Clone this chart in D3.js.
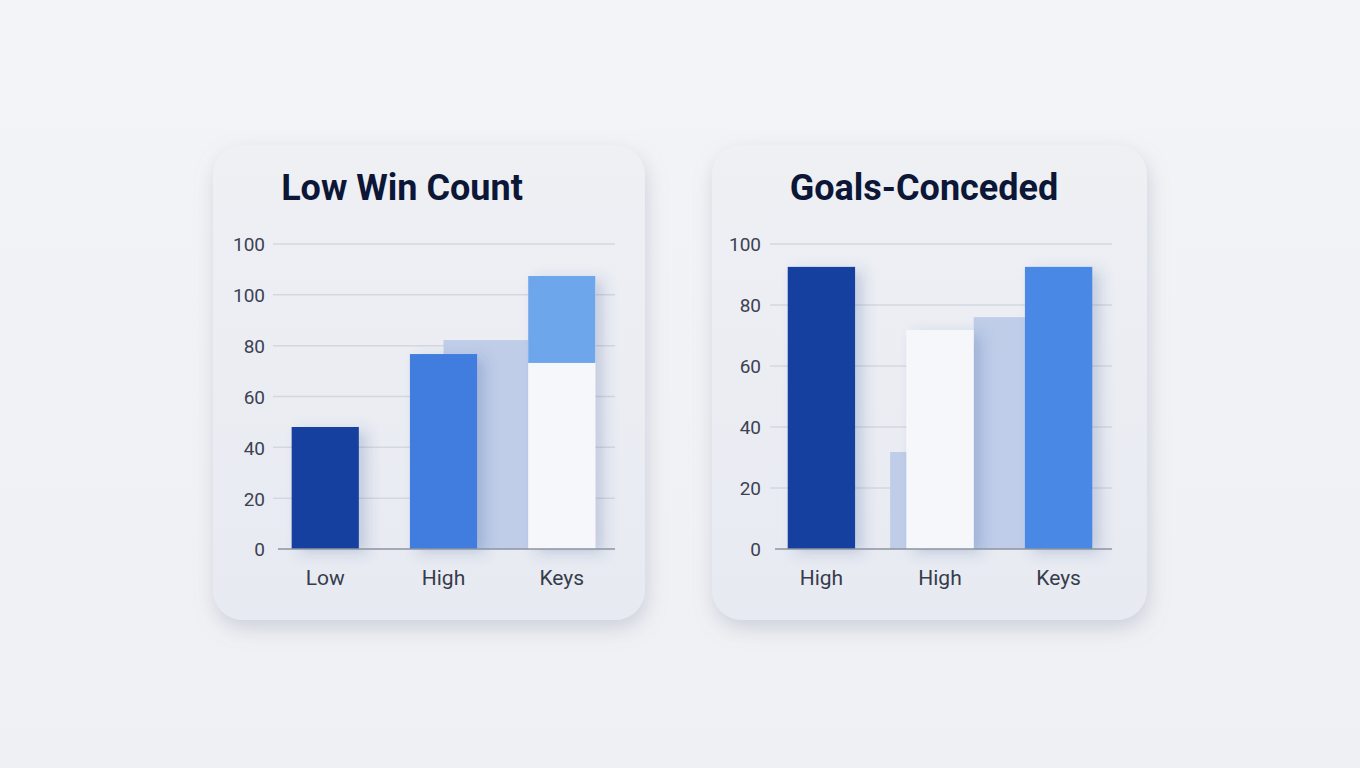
<!DOCTYPE html>
<html><head><meta charset="utf-8">
<script src="https://cdn.jsdelivr.net/npm/d3@7"></script>
<style>
html,body{margin:0;padding:0;background:#f2f3f6;}
svg{display:block;}
</style></head>
<body>
<svg id="chart" width="1360" height="768"></svg>
<script>
// ---- data ----
const leftTitle = "Low Win Count";
const leftCategories = ["Low", "High", "Keys"];
const leftTickValues = [0, 20, 40, 60, 80, 100, 120];
const leftTickLabels = ["0", "20", "40", "60", "80", "100", "100"];
const leftBase = [48, 76.7, 73.2];        // main bar values
const leftTop = [0, 0, 34.2];             // stacked top segment
const leftGhost = [0, 82.2, 0];           // faint bar following each category

const rightTitle = "Goals-Conceded";
const rightCategories = ["High", "High ", "Keys"];
const rightCategoryLabels = ["High", "High", "Keys"];
const rightTickValues = [0, 20, 40, 60, 80, 100];
const rightTickLabels = ["0", "20", "40", "60", "80", "100"];
const rightBase = [92.5, 71.8, 92.5];
const rightTop = [0, 0, 0];
const rightGhostBefore = [0, 31.8, 0];    // faint bar peeking before a category
const rightGhostAfter = [0, 76, 0];       // faint bar after a category

const svg = d3.select("#chart");
const defs = svg.append("defs");

// background gradient
const bg = defs.append("linearGradient").attr("id","bg").attr("x1",0).attr("y1",0).attr("x2",0).attr("y2",1);
bg.append("stop").attr("offset","0%").attr("stop-color","#f3f4f7");
bg.append("stop").attr("offset","100%").attr("stop-color","#eff0f3");
svg.append("rect").attr("width",1360).attr("height",768).attr("fill","url(#bg)");

const cardGrad = defs.append("linearGradient").attr("id","card").attr("x1",0).attr("y1",0).attr("x2",0).attr("y2",1);
cardGrad.append("stop").attr("offset","0%").attr("stop-color","#eef0f4");
cardGrad.append("stop").attr("offset","100%").attr("stop-color","#e7eaf1");

const cs = defs.append("filter").attr("id","cardShadow").attr("x","-20%").attr("y","-20%").attr("width","140%").attr("height","140%");
cs.append("feDropShadow").attr("dx",2).attr("dy",8).attr("stdDeviation",10).attr("flood-color","#8a93ad").attr("flood-opacity",0.35);

const bs = defs.append("filter").attr("id","barShadow").attr("x","-30%").attr("y","-20%").attr("width","180%").attr("height","140%");
bs.append("feDropShadow").attr("dx",8).attr("dy",4).attr("stdDeviation",7).attr("flood-color","#3b5294").attr("flood-opacity",0.22);

const gs = defs.append("filter").attr("id","ghostBlur").attr("x","-20%").attr("y","-20%").attr("width","140%").attr("height","140%");
gs.append("feGaussianBlur").attr("stdDeviation",0.6);

function panel(opt) {
  const g = svg.append("g");
  g.append("rect")
    .attr("x", opt.card[0]).attr("y", opt.card[1])
    .attr("width", opt.card[2]).attr("height", opt.card[3])
    .attr("rx", 30).attr("fill", "url(#card)")
    .attr("filter", "url(#cardShadow)");

  g.append("text")
    .attr("x", opt.titleX).attr("y", 200)
    .attr("text-anchor", "middle")
    .attr("font-family", "Roboto, 'Noto Sans', sans-serif")
    .attr("font-weight", 700).attr("font-size", 36)
    .attr("fill", "#0c1636")
    .text(opt.title);

  const y = d3.scaleLinear().domain(opt.domain).range([549, 244]);
  const x = d3.scaleBand().domain(opt.categories).range(opt.xRange)
    .paddingInner(0.432).paddingOuter(0.2);
  const step = x.step(), bw = x.bandwidth();

  // tick labels
  const yAxis = d3.axisLeft(y).tickValues(opt.tickValues)
    .tickFormat((d, i) => opt.tickLabels[i]).tickSize(0).tickPadding(0);
  const ga = g.append("g").attr("transform", `translate(${opt.labelX},0)`).call(yAxis);
  ga.select(".domain").remove();
  ga.selectAll("text").attr("font-family", "Roboto, 'Noto Sans', sans-serif")
    .attr("font-size", 19).attr("fill", "#3c4253").attr("dy", "0.36em");

  // grid
  g.append("g").selectAll("line").data(opt.tickValues.filter(v => v > 0)).join("line")
    .attr("x1", opt.gridX[0]).attr("x2", opt.gridX[1])
    .attr("y1", d => y(d)).attr("y2", d => y(d))
    .attr("stroke", "#d3d7df").attr("stroke-width", 1.5);

  // ghost bars
  const ghosts = [];
  opt.ghostAfter.forEach((v, i) => { if (v > 0) ghosts.push({x: x(opt.categories[i]) + opt.ghostAfterOffset * bw, w: opt.ghostAfterWidth * step, v}); });
  (opt.ghostBefore || []).forEach((v, i) => { if (v > 0) ghosts.push({x: x(opt.categories[i]) - 0.24 * bw, w: 0.8 * bw, v}); });
  g.append("g").selectAll("rect").data(ghosts).join("rect")
    .attr("x", d => d.x).attr("width", d => d.w)
    .attr("y", d => y(d.v)).attr("height", d => y(0) - y(d.v))
    .attr("fill", "#bfcde9").attr("filter", "url(#ghostBlur)");

  // main bars
  const bars = g.append("g").selectAll("g").data(opt.categories).join("g");
  bars.append("rect")
    .attr("x", d => x(d)).attr("width", bw)
    .attr("y", (d, i) => y(opt.base[i] + opt.top[i]))
    .attr("height", (d, i) => y(0) - y(opt.base[i] + opt.top[i]))
    .attr("fill", (d, i) => opt.colors[i])
    .attr("filter", "url(#barShadow)");
  bars.filter((d, i) => opt.top[i] > 0).append("rect")
    .attr("x", d => x(d)).attr("width", bw)
    .attr("y", (d) => { const i = opt.categories.indexOf(d); return y(opt.base[i] + opt.top[i]); })
    .attr("height", (d) => { const i = opt.categories.indexOf(d); return y(opt.base[i]) - y(opt.base[i] + opt.top[i]); })
    .attr("fill", d => opt.topColors[opt.categories.indexOf(d)]);

  // baseline
  g.append("line").attr("x1", opt.gridX[0] + 5).attr("x2", opt.gridX[1])
    .attr("y1", y(0)).attr("y2", y(0)).attr("stroke", "#8d93a1").attr("stroke-width", 1.5);

  // category labels
  g.append("g").selectAll("text").data(opt.categories).join("text")
    .attr("x", d => x(d) + bw / 2).attr("y", 585)
    .attr("text-anchor", "middle")
    .attr("font-family", "Roboto, 'Noto Sans', sans-serif")
    .attr("font-size", 21).attr("fill", "#363c4c")
    .text((d, i) => opt.categoryLabels[i]);
}

panel({
  card: [213, 145, 432, 475], title: leftTitle, titleX: 402,
  domain: [0, 120], tickValues: leftTickValues, tickLabels: leftTickLabels,
  categories: leftCategories, categoryLabels: leftCategories,
  xRange: [268, 619], labelX: 265, gridX: [273, 615],
  base: leftBase, top: leftTop, ghostAfter: leftGhost,
  ghostAfterOffset: 0.5, ghostAfterWidth: 0.86,
  colors: ["#163f9f", "#3f7ddf", "#f6f7fb"], topColors: [null, null, "#6ea6ec"]
});

panel({
  card: [712, 145, 435, 475], title: rightTitle, titleX: 924,
  domain: [0, 100], tickValues: rightTickValues, tickLabels: rightTickLabels,
  categories: rightCategories, categoryLabels: rightCategoryLabels,
  xRange: [764, 1116], labelX: 761, gridX: [770, 1112],
  base: rightBase, top: rightTop, ghostAfter: rightGhostAfter, ghostBefore: rightGhostBefore,
  ghostAfterOffset: 1.0, ghostAfterWidth: 0.6,
  colors: ["#163f9f", "#f6f7fb", "#4a88e4"], topColors: [null, null, null]
});
</script>
</body></html>
